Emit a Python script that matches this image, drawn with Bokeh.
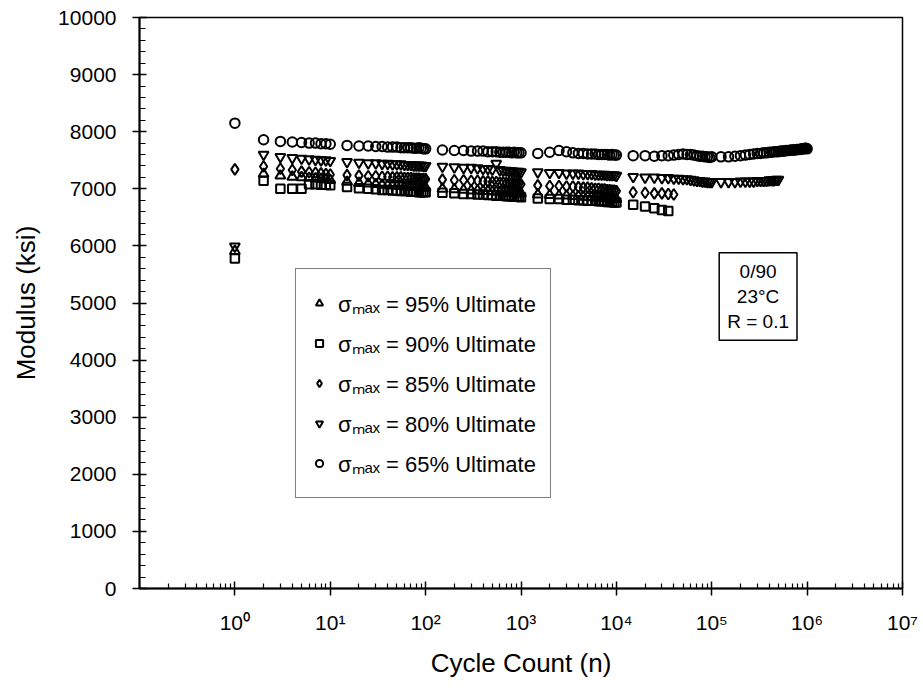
from bokeh.plotting import figure
from bokeh.models import (Legend, LegendItem, Label, FixedTicker,
                          SingleIntervalTicker, Range1d)
from bokeh.embed import file_html
from bokeh.resources import INLINE

# ---------------- data ----------------
CYCLES = [1,
          2, 3, 4, 5, 6, 7, 8, 9, 10,
          15, 20, 25, 30, 35, 40, 45, 50, 55, 60, 65, 70, 75, 80, 85, 90, 95, 100,
          150, 200, 250, 300, 350, 400, 450, 500, 550, 600, 650, 700, 750, 800, 850, 900, 950, 1000,
          1500, 2000, 2500, 3000, 3500, 4000, 4500, 5000, 5500, 6000, 6500, 7000, 7500, 8000, 8500, 9000, 9500, 10000,
          15000, 20000, 25000, 30000, 35000, 40000, 45000, 50000, 55000, 60000, 65000, 70000, 75000, 80000, 85000, 90000, 95000, 100000,
          125000, 150000, 175000, 200000, 225000, 250000, 275000, 300000, 325000, 350000, 375000, 400000,
          425000, 450000, 475000, 500000, 525000, 550000, 575000, 600000, 625000, 650000, 675000, 700000,
          725000, 750000, 775000, 800000, 825000, 850000, 875000, 900000, 925000, 950000, 975000, 1000000]

MOD_95 = [5910,
          7260, 7230, 7210, 7200, 7190, 7180, 7170, 7160, 7150,
          7120, 7100, 7090, 7080, 7070, 7060, 7060, 7050, 7050, 7040, 7040, 7040, 7030, 7030, 7030, 7020, 7020, 7020,
          7000, 6990, 6980, 6970, 6970, 6960, 6960, 6950, 6950, 6940, 6940, 6940, 6930, 6930, 6930, 6920, 6920, 6920,
          6900, 6890, 6880, 6880, 6870, 6870, 6860, 6860, 6850, 6850, 6850, 6840, 6840, 6840, 6830, 6830, 6830, 6820]

MOD_90 = [5780,
          7140, 7000, 7000, 7000, 7080, 7080, 7070, 7070, 7060,
          7030, 7010, 7000, 6990, 6980, 6980, 6970, 6970, 6960, 6960, 6960, 6950, 6950, 6950, 6940, 6940, 6940, 6940,
          6930, 6920, 6910, 6910, 6900, 6900, 6890, 6890, 6880, 6880, 6880, 6870, 6870, 6870, 6860, 6860, 6860, 6850,
          6830, 6820, 6820, 6810, 6810, 6800, 6800, 6790, 6790, 6790, 6780, 6780, 6780, 6770, 6770, 6770, 6760, 6760,
          6720, 6690, 6660, 6630, 6610]

MOD_85 = [7340,
          7390, 7350, 7330, 7300, 7290, 7280, 7270, 7260, 7250,
          7240, 7230, 7220, 7220, 7210, 7210, 7200, 7200, 7200, 7190, 7190, 7190, 7180, 7180, 7180, 7170, 7170, 7170,
          7160, 7150, 7150, 7140, 7140, 7130, 7130, 7120, 7120, 7110, 7110, 7100, 7100, 7100, 7090, 7090, 7090, 7080,
          7060, 7050, 7050, 7040, 7040, 7030, 7020, 7020, 7010, 7000, 7000, 6990, 6990, 6980, 6980, 6970, 6970, 6960,
          6940, 6930, 6920, 6920, 6910, 6900]

MOD_80 = [5990,
          7600, 7560, 7540, 7530, 7520, 7510, 7500, 7500, 7490,
          7470, 7460, 7450, 7450, 7440, 7440, 7430, 7430, 7430, 7420, 7420, 7420, 7410, 7410, 7410, 7410, 7400, 7400,
          7390, 7380, 7370, 7370, 7360, 7350, 7350, 7340, 7440, 7330, 7320, 7320, 7310, 7310, 7300, 7300, 7300, 7290,
          7290, 7280, 7280, 7270, 7270, 7270, 7260, 7260, 7260, 7250, 7250, 7250, 7250, 7240, 7240, 7240, 7240, 7230,
          7210, 7200, 7200, 7190, 7190, 7180, 7180, 7170, 7170, 7160, 7150, 7140, 7140, 7130, 7130, 7120, 7120, 7120,
          7120, 7120, 7120, 7130, 7130, 7130, 7130, 7140, 7140, 7140, 7140, 7150, 7150, 7150, 7160, 7160]

MOD_65 = [8150,
          7860, 7830, 7820, 7810, 7800, 7800, 7790, 7790, 7780,
          7760, 7750, 7750, 7740, 7740, 7730, 7730, 7730, 7720, 7720, 7720, 7720, 7710, 7710, 7720, 7710, 7700, 7700,
          7680, 7670, 7670, 7660, 7660, 7660, 7650, 7650, 7650, 7640, 7640, 7640, 7640, 7630, 7640, 7630, 7630, 7630,
          7620, 7640, 7670, 7650, 7630, 7620, 7620, 7610, 7610, 7610, 7600, 7600, 7600, 7600, 7590, 7600, 7590, 7590,
          7580, 7580, 7570, 7580, 7580, 7590, 7600, 7610, 7600, 7600, 7590, 7580, 7570, 7570, 7560, 7560, 7550, 7560,
          7560, 7560, 7570, 7580, 7590, 7600, 7610, 7620, 7620, 7630, 7630, 7640,
          7640, 7650, 7650, 7650, 7660, 7660, 7660, 7670, 7670, 7670, 7680, 7680,
          7680, 7680, 7690, 7690, 7690, 7690, 7700, 7700, 7700, 7710, 7710, 7700]

SERIES_LABELS = ["σₘₐₓ = 95% Ultimate", "σₘₐₓ = 90% Ultimate", "σₘₐₓ = 85% Ultimate",
                 "σₘₐₓ = 80% Ultimate", "σₘₐₓ = 65% Ultimate"]

X_TICKS = [1, 10, 100, 1000, 10000, 100000, 1000000, 10000000]
X_TICK_LABELS = ["10⁰", "10¹", "10²", "10³", "10⁴", "10⁵", "10⁶", "10⁷"]
X_MINOR = [m * 10.0 ** d for d in range(-1, 7) for m in range(2, 10)]

BOX_TEXT = "0/90\n23°C\nR = 0.1"

FONT = "Liberation Sans"

# ---------------- figure ----------------
p = figure(frame_width=763, frame_height=571, x_axis_type="log",
           x_range=Range1d(0.1, 1e7), y_range=Range1d(0, 10000),
           output_backend="svg", toolbar_location=None,
           min_border_left=139, min_border_top=17, min_border_right=18,
           min_border_bottom=98)
p.xgrid.visible = False
p.ygrid.visible = False
p.outline_line_color = "black"
p.outline_line_width = 1.5
p.background_fill_color = "white"

markers = ["triangle", "square", "diamond", "inverted_triangle", "circle"]
sizes = [10, 8.5, 11, 10, 9.5]
datasets = [MOD_95, MOD_90, MOD_85, MOD_80, MOD_65]
renderers = []
for mk, sz, vals in zip(markers, sizes, datasets):
    r = p.scatter(CYCLES[:len(vals)], vals, marker=mk, size=sz,
                  fill_color=None, line_color="black", line_width=2)
    renderers.append(r)

# axes
p.xaxis.ticker = FixedTicker(ticks=X_TICKS, minor_ticks=X_MINOR)
p.xaxis.major_label_overrides = {t: lab for t, lab in zip(X_TICKS, X_TICK_LABELS)}
p.yaxis.ticker = SingleIntervalTicker(interval=1000, num_minor_ticks=5)

for ax in (p.xaxis[0], p.yaxis[0]):
    ax.axis_line_width = 2
    ax.axis_line_color = "black"
    ax.major_tick_line_width = 1.5
    ax.minor_tick_line_width = 1.2
    ax.major_tick_out = 7
    ax.major_tick_in = 7
    ax.minor_tick_out = 0
    ax.major_label_text_font = FONT
    ax.major_label_text_font_size = "21px"
    ax.major_label_text_color = "black"
    ax.axis_label_text_font = FONT
    ax.axis_label_text_font_size = "26px"
    ax.axis_label_text_font_style = "normal"
    ax.axis_label_text_color = "black"

p.xaxis.minor_tick_in = 5
p.yaxis.minor_tick_in = 6
p.xaxis.major_label_standoff = 15
p.yaxis.major_label_standoff = 16
p.xaxis.axis_label = "Cycle Count (n)"
p.yaxis.axis_label = "Modulus (ksi)"
p.xaxis.axis_label_standoff = 11
p.yaxis.axis_label_standoff = 14

# legend
items = [LegendItem(label=lab, renderers=[r]) for lab, r in zip(SERIES_LABELS, renderers)]
legend = Legend(items=items, location=(156, 90), orientation="vertical",
                border_line_color="black", border_line_width=1.5,
                background_fill_color="white", background_fill_alpha=1.0,
                padding=14, spacing=0, label_height=40, glyph_height=40,
                glyph_width=18, label_standoff=10, margin=0,
                label_text_font=FONT, label_text_font_size="22px",
                label_text_color="black")
p.add_layout(legend)

# annotation box
lab = Label(x=618.6, y=292, x_units="screen", y_units="screen", text=BOX_TEXT,
            text_align="center", text_baseline="middle", text_font=FONT,
            text_font_size="19px", text_color="black", text_line_height=1.2,
            border_line_color="black", border_line_width=1.5,
            background_fill_color="white", padding=8)
p.add_layout(lab)

open("out.html", "w").write(file_html(p, INLINE))
